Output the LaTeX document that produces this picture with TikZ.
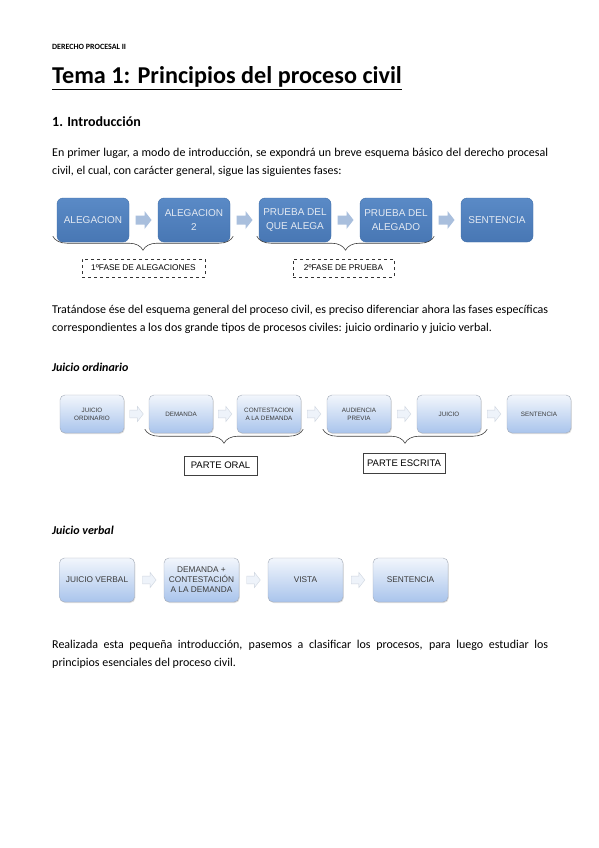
\documentclass[tikz,border=0pt]{standalone}
\usepackage{fontspec}
\setmainfont{Carlito}
\newfontfamily\arialf{Liberation Sans}
\usetikzlibrary{decorations.pathreplacing,shadows,calc}
\definecolor{dbtop}{HTML}{5A8AC6}
\definecolor{dbbot}{HTML}{4877B4}
\definecolor{dbborder}{HTML}{3F6EA8}
\definecolor{darrow}{HTML}{A9BFDD}
\definecolor{lbtop}{HTML}{F2F6FC}
\definecolor{lbbot}{HTML}{A9C4EC}
\definecolor{lbborder}{HTML}{A3ABB8}
\definecolor{larrowfill}{HTML}{EEF3FA}
\definecolor{larrowdraw}{HTML}{CFD6E0}
\definecolor{btext}{HTML}{E3E9F2}
\definecolor{ltext}{HTML}{3A3A3A}
\newcommand\blockarr[3]{%
  \path[shift={($(#2.east)!0.5!(#3.west)$)},#1]
    (-8,-4.5) -- (1,-4.5) -- (1,-9) -- (8,0) -- (1,9) -- (1,4.5) -- (-8,4.5) -- cycle;}
\tikzset{
  body/.style={anchor=base west, inner sep=0pt, font=\fontsize{12}{14}\selectfont},
  darkbox/.style={rounded corners=6pt, top color=dbtop, bottom color=dbbot, draw=dbborder,
    line width=0.4pt, minimum width=72pt, minimum height=44pt, inner sep=1pt,
    font=\arialf\fontsize{10}{13.5}\selectfont, text=btext, align=center},
  litebox/.style={rounded corners=5pt, top color=lbtop, bottom color=lbbot, draw=lbborder,
    line width=0.4pt, minimum height=38pt, inner sep=1pt, align=center,
    drop shadow={shadow xshift=0.8pt, shadow yshift=-1pt, opacity=0.25}},
  ordbox/.style={litebox, minimum width=64pt, font=\arialf\fontsize{6.3}{8}\selectfont, text=ltext},
  verbox/.style={litebox, minimum width=75pt, minimum height=44pt, font=\arialf\fontsize{8.3}{10}\selectfont, text=ltext},
  darr/.style={fill=darrow},
  larr/.style={fill=larrowfill, draw=larrowdraw, line width=0.4pt, scale=0.85},
  bracest/.style={decorate, decoration={brace, mirror, amplitude=14pt}, draw=black!75, line width=0.6pt},
  dashbox/.style={draw=black!80, dashed, line width=0.6pt, minimum height=18pt, inner sep=1pt,
    font=\arialf\fontsize{8.3}{10}\selectfont},
  solidbox/.style={draw=black!75, line width=0.6pt, inner sep=1pt, font=\arialf\fontsize{9.5}{11}\selectfont},
}
\begin{document}
\begin{tikzpicture}[x=1pt,y=-1pt]
\useasboundingbox[fill=white] (0,0) rectangle (599,848);

% header and titles
\node[anchor=base west, inner sep=0pt, font=\bfseries\fontsize{8}{9}\selectfont] (hdr) at (52,50) {DERECHO PROCESAL II};
\node[anchor=base west, inner sep=0pt, font=\bfseries\fontsize{24.2}{28}\selectfont] (title) at (52,84) {Tema 1: Principios del proceso civil};
\draw[line width=1.5pt] ([yshift=-5.5pt]title.base west) -- ([yshift=-5.5pt]title.base east);
\node[anchor=base west, inner sep=0pt, font=\bfseries\fontsize{14}{17}\selectfont] (h1) at (52,127) {1. Introducción};

\node[body] (p1a) at (52,156) {\makebox[496pt][s]{En primer lugar, a modo de introducción, se expondrá un breve esquema básico del derecho procesal}};
\node[body] (p1b) at (52,174) {civil, el cual, con carácter general, sigue las siguientes fases:};

% diagram 1
\node[darkbox] (a1) at (93,220) {ALEGACION};
\node[darkbox] (a2) at (194,220) {ALEGACION\\2};
\node[darkbox] (a3) at (295,220) {PRUEBA DEL\\QUE ALEGA};
\node[darkbox] (a4) at (396,220) {PRUEBA DEL\\ALEGADO};
\node[darkbox] (a5) at (497,220) {SENTENCIA};
\blockarr{darr}{a1}{a2}
\blockarr{darr}{a2}{a3}
\blockarr{darr}{a3}{a4}
\blockarr{darr}{a4}{a5}
\draw[bracest] ([xshift=-4pt,yshift=6pt]a1.south west) -- ([xshift=3pt,yshift=6pt]a2.south east);
\draw[bracest] ([xshift=-2pt,yshift=6pt]a3.south west) -- ([xshift=2pt,yshift=6pt]a4.south east);
\node[dashbox, minimum width=123pt] (f1) at (143.5,268) {1ºFASE DE ALEGACIONES};
\node[dashbox, minimum width=101pt] (f2) at (343.5,268) {2ºFASE DE PRUEBA};

\node[body] (p2a) at (52,313) {\makebox[496pt][s]{Tratándose ése del esquema general del proceso civil, es preciso diferenciar ahora las fases específicas}};
\node[body] (p2b) at (52,331) {correspondientes a los dos grande tipos de procesos civiles: juicio ordinario y juicio verbal.};

\node[body, font=\bfseries\itshape\fontsize{12}{14}\selectfont] (jo) at (52,371) {Juicio ordinario};

% diagram 2
\node[ordbox] (o1) at (92,414) {JUICIO\\ORDINARIO};
\node[ordbox] (o2) at (181,414) {DEMANDA};
\node[ordbox] (o3) at (269,414) {CONTESTACION\\A LA DEMANDA};
\node[ordbox] (o4) at (359,414) {AUDIENCIA\\PREVIA};
\node[ordbox] (o5) at (449,414) {JUICIO};
\node[ordbox] (o6) at (539,414) {SENTENCIA};
\blockarr{larr}{o1}{o2}
\blockarr{larr}{o2}{o3}
\blockarr{larr}{o3}{o4}
\blockarr{larr}{o4}{o5}
\blockarr{larr}{o5}{o6}
\draw[bracest] ([xshift=-4pt,yshift=4pt]o2.south west) -- ([xshift=2pt,yshift=4pt]o3.south east);
\draw[bracest] ([xshift=-4pt,yshift=4pt]o4.south west) -- ([xshift=6pt,yshift=4pt]o5.south east);
\node[solidbox, minimum width=73pt, minimum height=19pt] (po) at (220.5,465.5) {PARTE ORAL};
\node[solidbox, minimum width=82pt, minimum height=20pt] (pe) at (404,463) {PARTE ESCRITA};

\node[body, font=\bfseries\itshape\fontsize{12}{14}\selectfont] (jv) at (52,534) {Juicio verbal};

% diagram 3
\node[verbox] (v1) at (97,580) {JUICIO VERBAL};
\node[verbox] (v2) at (201.5,580) {DEMANDA +\\CONTESTACIÓN\\A LA DEMANDA};
\node[verbox] (v3) at (305.5,580) {VISTA};
\node[verbox] (v4) at (410.5,580) {SENTENCIA};
\blockarr{larr}{v1}{v2}
\blockarr{larr}{v2}{v3}
\blockarr{larr}{v3}{v4}

\node[body] (p3a) at (52,648) {\makebox[496pt][s]{Realizada esta pequeña introducción, pasemos a clasificar los procesos, para luego estudiar los}};
\node[body] (p3b) at (52,666) {principios esenciales del proceso civil.};
\end{tikzpicture}
\end{document}
